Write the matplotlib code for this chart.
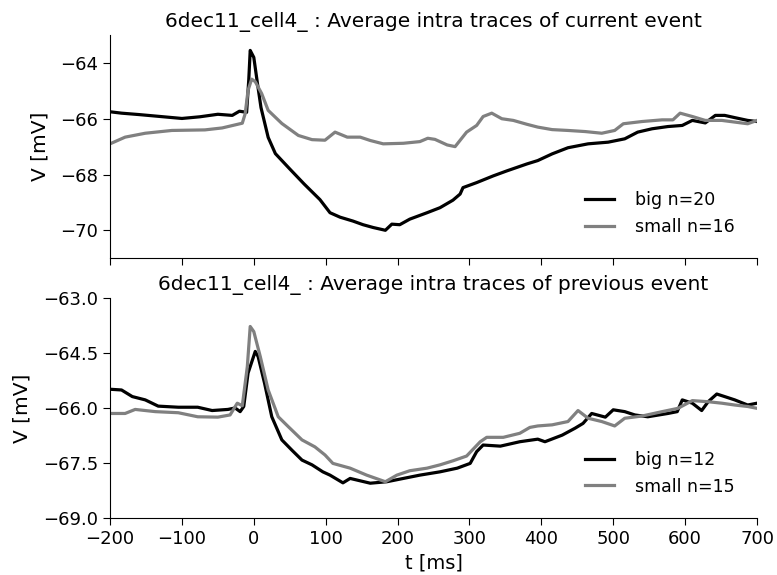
import numpy as np
import matplotlib
matplotlib.use("Agg")
import matplotlib.pyplot as plt

# current event, big (n=20)
t_cur_big = [-200, -184, -160, -130, -100, -75, -50, -30, -20, -10, -7, -5, -2, 0, 5, 10, 20, 30, 50,
             70, 92, 106, 120, 138, 152, 166, 183, 192, 203, 217, 241, 259, 277, 287, 291, 310,
             333, 352, 380, 395, 415, 437, 465, 493, 516, 534, 554, 576, 596, 610, 628, 642,
             655, 669, 687, 700]
v_cur_big = [-65.75, -65.8, -65.85, -65.92, -65.99, -65.93, -65.84, -65.88, -65.73, -65.77, -64.6,
             -63.55, -63.7, -63.8, -64.72, -65.6, -66.67, -67.25, -67.8, -68.34, -68.9, -69.37,
             -69.53, -69.67, -69.8, -69.9, -70.0, -69.78, -69.8, -69.6, -69.37, -69.19, -68.92,
             -68.7, -68.47, -68.29, -68.05, -67.87, -67.62, -67.5, -67.26, -67.04, -66.9, -66.84,
             -66.72, -66.48, -66.36, -66.28, -66.24, -66.06, -66.15, -65.88, -65.88, -65.96,
             -66.06, -66.1]

# current event, small (n=16)
t_cur_small = [-200, -179, -151, -114, -68, -44, -16, -12, -8, -3, 2, 11, 20, 39, 62, 81, 99, 113,
               130, 148, 162, 180, 208, 231, 242, 252, 269, 280, 296, 310, 319, 331, 345, 361,
               380, 395, 415, 437, 461, 484, 502, 514, 540, 568, 583, 593, 610, 628, 651, 669,
               687, 700]
v_cur_small = [-66.9, -66.66, -66.52, -66.42, -66.4, -66.33, -66.16, -65.82, -64.98, -64.58, -64.67,
               -65.1, -65.7, -66.17, -66.6, -66.75, -66.77, -66.48, -66.66, -66.66, -66.78, -66.9,
               -66.88, -66.82, -66.7, -66.74, -66.94, -67.0, -66.48, -66.24, -65.92, -65.8, -66.0,
               -66.06, -66.2, -66.3, -66.39, -66.42, -66.46, -66.52, -66.42, -66.18, -66.1, -66.04,
               -66.04, -65.8, -65.92, -66.06, -66.06, -66.12, -66.18, -66.06]

# previous event, big (n=12)
t_prev_big = [-200, -184, -169, -151, -133, -105, -78, -58, -36, -26, -19, -14, -8, 2, 6, 15, 25,
              39, 53, 67, 81, 96, 106, 124, 134, 162, 185, 208, 231, 259, 283, 301, 310, 319, 343,
              370, 395, 405, 429, 447, 458, 470, 489, 500, 516, 530, 548, 576, 589, 596, 610, 623,
              632, 644, 655, 669, 687, 700]
v_prev_big = [-65.49, -65.51, -65.69, -65.78, -65.95, -65.98, -65.98, -66.07, -66.04, -66.0, -66.1,
              -65.96, -65.05, -64.46, -64.6, -65.33, -66.24, -66.87, -67.15, -67.42, -67.55, -67.74,
              -67.83, -68.04, -67.92, -68.05, -68.01, -67.92, -67.83, -67.74, -67.64, -67.51,
              -67.19, -67.01, -67.04, -66.92, -66.85, -66.92, -66.74, -66.55, -66.42, -66.15,
              -66.25, -66.05, -66.1, -66.19, -66.24, -66.15, -66.1, -65.78, -65.87, -66.07, -65.83,
              -65.62, -65.69, -65.78, -65.92, -65.87]

# previous event, small (n=15)
t_prev_small = [-200, -179, -165, -137, -105, -78, -50, -33, -23, -16, -9, -5, 0, 9, 20, 34, 48, 67,
                85, 99, 110, 134, 157, 183, 199, 217, 241, 259, 277, 296, 315, 324, 347, 370, 384,
                395, 415, 437, 451, 465, 484, 502, 516, 540, 568, 590, 610, 632, 651, 669, 687, 700]
v_prev_small = [-66.15, -66.15, -66.04, -66.1, -66.13, -66.24, -66.25, -66.19, -65.87, -65.94,
                -64.87, -63.78, -63.92, -64.6, -65.51, -66.24, -66.51, -66.87, -67.06, -67.28,
                -67.51, -67.64, -67.83, -68.01, -67.83, -67.71, -67.64, -67.55, -67.44, -67.31,
                -66.92, -66.8, -66.8, -66.69, -66.53, -66.49, -66.46, -66.37, -66.07, -66.28,
                -66.37, -66.49, -66.28, -66.22, -66.1, -66.01, -65.8, -65.83, -65.87, -65.92,
                -65.96, -66.01]

cell = "6dec11_cell4_"
gray = "#808080"

fig = plt.figure(figsize=(7.77, 5.75), dpi=100)
ax1 = fig.add_axes([0.1416, 0.551, 0.8327, 0.388])
ax2 = fig.add_axes([0.1416, 0.099, 0.8327, 0.383])

ax1.plot(t_cur_big, v_cur_big, color="k", lw=2.3, label="big n=20")
ax1.plot(t_cur_small, v_cur_small, color=gray, lw=2.3, label="small n=16")
ax2.plot(t_prev_big, v_prev_big, color="k", lw=2.3, label="big n=12")
ax2.plot(t_prev_small, v_prev_small, color=gray, lw=2.3, label="small n=15")

ax1.set_ylim(-71, -63)
ax1.set_yticks([-70, -68, -66, -64])
ax2.set_ylim(-69, -63)
ax2.set_yticks([-69.0, -67.5, -66.0, -64.5, -63.0])

ax1.set_title(cell + " : Average intra traces of current event", fontsize=14.5)
ax2.set_title(cell + " : Average intra traces of previous event", fontsize=14.5)

for ax in (ax1, ax2):
    ax.set_xlim(-200, 700)
    ax.set_xticks(range(-200, 701, 100))
    ax.spines["top"].set_visible(False)
    ax.spines["right"].set_visible(False)
    ax.xaxis.set_ticks_position("bottom")
    ax.yaxis.set_ticks_position("left")
    ax.tick_params(direction="out", length=5, labelsize=13)
    ax.set_ylabel("V [mV]", fontsize=14.5, labelpad=8)
    ax.legend(loc="lower right", frameon=False, fontsize=12.5, handlelength=1.65,
              handletextpad=1.2, borderaxespad=0.9)

ax1.tick_params(labelbottom=False)
ax2.set_xlabel("t [ms]", fontsize=14)

fig.savefig("out.png", dpi=100)
